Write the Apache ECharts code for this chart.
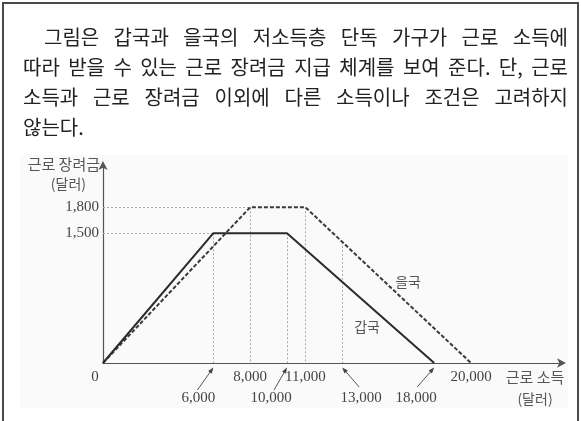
<!DOCTYPE html>
<html><head><meta charset="utf-8">
<script src="https://cdn.jsdelivr.net/npm/echarts@6/dist/echarts.min.js"></script>
<style>html,body{margin:0;padding:0;background:#fff}#c{width:581px;height:421px}</style>
</head><body><div id="c"></div>
<script>
// ---- data ----
const paragraph = [
  "그림은 갑국과 을국의 저소득층 단독 가구가 근로 소득에",
  "따라 받을 수 있는 근로 장려금 지급 체계를 보여 준다. 단, 근로",
  "소득과 근로 장려금 이외에 다른 소득이나 조건은 고려하지",
  "않는다."
];
const seriesNames = ["갑국", "을국"];
const gapIncome = [0, 6000, 10000, 18000];
const gapCredit = [0, 1500, 1500, 0];
const eulIncome = [0, 8000, 11000, 20000];
const eulCredit = [0, 1800, 1800, 0];
const yTicks = [1500, 1800];
const xTicksUpper = [0, 8000, 11000, 20000];
const xTicksLower = [6000, 10000, 13000, 18000];
const hGuideX = [8000, 6000];
const hGuideY = [1800, 1500];
const vGuideX = [6000, 8000, 10000, 11000, 13000];
const vGuideY = [1500, 1800, 1500, 1800, 1400];
const xAxisTitle = "근로 소득";
const yAxisTitle = "근로 장려금";
const unitText = "(달러)";

// ---- layout (not data) ----
const seriesLabelAt = [[14350, 415], [16580, 935]];
const lowerLabelDx = [-15, -16, 19, -18];
const lowerTailDx = [-16, -13, 17, -17];
const lowerTailY = [390, 390, 387, 387];

const fmt = v => v.toLocaleString('en-US');
const KR = '"Noto Sans CJK KR", "Noto Sans", sans-serif';
const SERIF = '"Liberation Serif", "DejaVu Serif", serif';

const gapData = gapIncome.map((x, i) => [x, gapCredit[i]]);
const eulData = eulIncome.map((x, i) => [x, eulCredit[i]]);
const guideData = [];
hGuideX.forEach((x, i) => guideData.push([{coord: [0, hGuideY[i]]}, {coord: [x, hGuideY[i]]}]));
vGuideX.forEach((x, i) => guideData.push([{coord: [x, vGuideY[i]]}, {coord: [x, 0]}]));

const chart = echarts.init(document.getElementById('c'), null, {renderer: 'canvas'});

const option = {
  animation: false,
  backgroundColor: '#fff',
  grid: {left: 103, top: 164, width: 460, height: 199, containLabel: false, outerBoundsMode: 'none'},
  xAxis: {
    type: 'value', min: 0, max: 25000,
    splitLine: {show: false},
    axisTick: {show: false},
    axisLine: {show: true, symbol: ['none', 'arrow'], symbolSize: [7, 9], symbolOffset: [0, 3],
      lineStyle: {color: '#555', width: 1.2}},
    axisLabel: {
      customValues: xTicksUpper, margin: 7, color: '#444', fontFamily: SERIF, fontSize: 15,
      formatter: v => v === 0 ? '{z|0}' : fmt(v),
      rich: {z: {padding: [0, 16, 0, 0], fontFamily: SERIF, fontSize: 15, color: '#444'}}
    },
    name: xAxisTitle + '\n{u|' + unitText + '}',
    nameLocation: 'end', nameGap: -28,
    nameTextStyle: {align: 'center', verticalAlign: 'top', lineHeight: 21, padding: [4, 0, 0, 0],
      fontFamily: KR, fontSize: 15, color: '#555',
      rich: {u: {fontFamily: KR, fontSize: 14, color: '#555', lineHeight: 21}}}
  },
  yAxis: {
    type: 'value', min: 0, max: 2300,
    splitLine: {show: false},
    axisTick: {show: false},
    axisLine: {show: true, symbol: ['none', 'arrow'], symbolSize: [7, 9], symbolOffset: [0, 3],
      lineStyle: {color: '#555', width: 1.2}},
    axisLabel: {customValues: yTicks, margin: 4, color: '#444', fontFamily: SERIF, fontSize: 15,
      formatter: v => fmt(v)},
    name: '{a|' + yAxisTitle + '}\n{b|' + unitText + '}',
    nameLocation: 'end', nameGap: 10,
    nameTextStyle: {align: 'right', verticalAlign: 'top', padding: [0, 3, 0, 0],
      rich: {
        a: {fontFamily: KR, fontSize: 15, color: '#555', lineHeight: 20},
        b: {fontFamily: KR, fontSize: 14, color: '#555', lineHeight: 20, padding: [0, 14, 0, 0]}
      }}
  },
  series: [
    {
      name: seriesNames[0], type: 'line', data: gapData, symbol: 'none', z: 5,
      lineStyle: {color: '#2b2b2b', width: 2},
      markLine: {silent: true, symbol: ['none', 'none'], label: {show: false},
        lineStyle: {color: '#a8a8a8', width: 1, type: [2, 2]}, data: guideData, z: 1},
      markPoint: {symbol: 'circle', symbolSize: 0, silent: true,
        label: {show: true, position: 'inside', formatter: seriesNames[0], color: '#555', fontFamily: KR, fontSize: 14},
        data: [{coord: seriesLabelAt[0]}]}
    },
    {
      name: seriesNames[1], type: 'line', data: eulData, symbol: 'none', z: 4,
      lineStyle: {color: '#3a3a3a', width: 2, type: [4, 2]},
      markPoint: {symbol: 'circle', symbolSize: 0, silent: true,
        label: {show: true, position: 'inside', formatter: seriesNames[1], color: '#555', fontFamily: KR, fontSize: 14},
        data: [{coord: seriesLabelAt[1]}]}
    }
  ]
};
chart.setOption(option);

// ---- graphics: frame, paragraph, lower tick labels with arrows ----
const g = [];
g.push({type: 'rect', silent: true, z: -10, shape: {x: 20, y: 155, width: 548, height: 253}, style: {fill: '#fafafa'}});
g.push({type: 'polyline', silent: true, z: 10, shape: {points: [[3, 421], [3, 3], [578, 3], [578, 421]]},
  style: {stroke: '#4a4a4a', lineWidth: 2, fill: null}});

const ctx = document.createElement('canvas').getContext('2d');
const pFont = '20px ' + KR;
ctx.font = pFont;
const lineY = [37, 67, 97, 127];
const lineLeft = [44, 23, 23, 23];
const lineRight = 568;
paragraph.forEach((line, li) => {
  const words = line.split(' ');
  if (li === paragraph.length - 1 || words.length < 2) {
    g.push({type: 'text', silent: true, x: lineLeft[li], y: lineY[li],
      style: {text: line, font: pFont, fill: '#222', textVerticalAlign: 'middle', textAlign: 'left'}});
    return;
  }
  const widths = words.map(w => ctx.measureText(w).width);
  const total = widths.reduce((a, b) => a + b, 0);
  const gap = (lineRight - lineLeft[li] - total) / (words.length - 1);
  let x = lineLeft[li];
  words.forEach((w, wi) => {
    g.push({type: 'text', silent: true, x: x, y: lineY[li],
      style: {text: w, font: pFont, fill: '#222', textVerticalAlign: 'middle', textAlign: 'left'}});
    x += widths[wi] + gap;
  });
});

xTicksLower.forEach((v, i) => {
  const p = chart.convertToPixel({gridIndex: 0}, [v, 0]);
  const px = p[0], py = p[1];
  g.push({type: 'text', silent: true, x: px + lowerLabelDx[i], y: 398,
    style: {text: fmt(v), font: '15px ' + SERIF, fill: '#444', textAlign: 'center', textVerticalAlign: 'middle'}});
  const hx = px, hy = py + 4.5;
  const tx = px + lowerTailDx[i], ty = lowerTailY[i];
  const dx = hx - tx, dy = hy - ty, L = Math.hypot(dx, dy);
  const ux = dx / L, uy = dy / L, nx = -uy, ny = ux;
  g.push({type: 'line', silent: true, shape: {x1: tx, y1: ty, x2: hx - ux * 3, y2: hy - uy * 3},
    style: {stroke: '#555', lineWidth: 1}});
  g.push({type: 'polygon', silent: true, shape: {points: [[hx, hy],
    [hx - ux * 6 + nx * 2.2, hy - uy * 6 + ny * 2.2], [hx - ux * 6 - nx * 2.2, hy - uy * 6 - ny * 2.2]]},
    style: {fill: '#444'}});
});

chart.setOption({graphic: {elements: g}});
</script>
</body></html>
